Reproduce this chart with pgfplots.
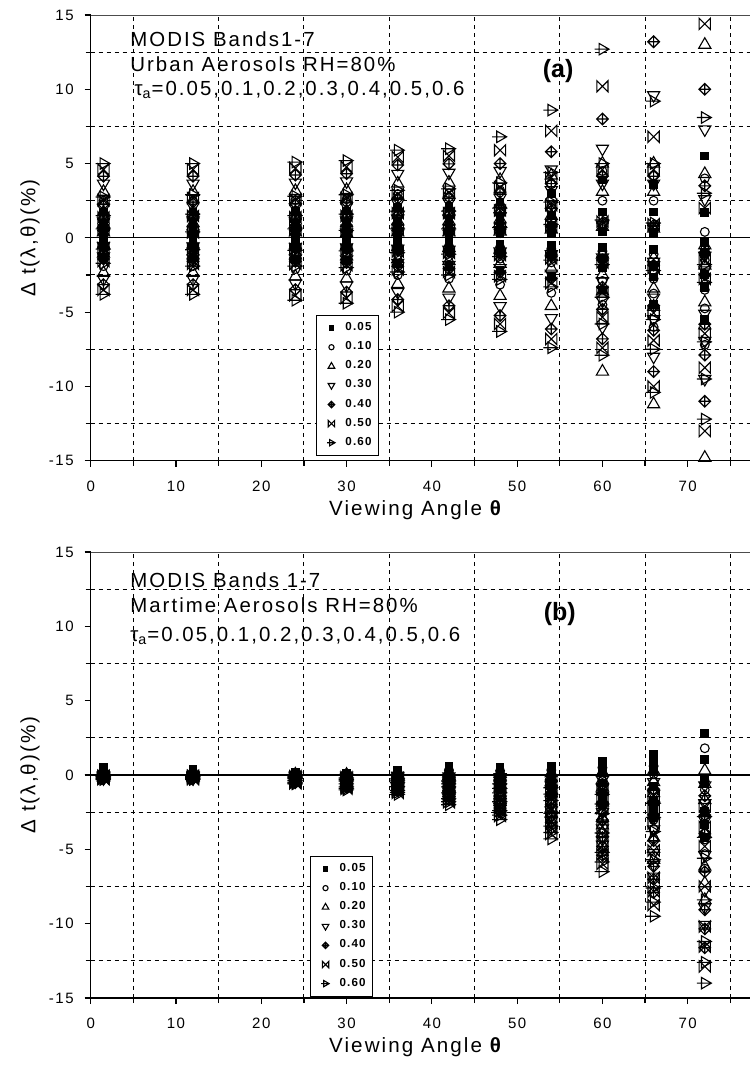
\documentclass[border=0pt]{standalone}
\usepackage{fontspec}
\setmainfont{Liberation Sans}
\newfontfamily\spaced[LetterSpace=10]{Liberation Sans}
\usepackage{pgfplots}
\usepackage{pgfplotstable}
\pgfplotsset{compat=1.18}

% marks of the seven optical depths
\pgfdeclareplotmark{dplus}{%
  \pgfpathmoveto{\pgfqpoint{0pt}{\pgfplotmarksize}}%
  \pgfpathlineto{\pgfqpoint{\pgfplotmarksize}{0pt}}%
  \pgfpathlineto{\pgfqpoint{0pt}{-\pgfplotmarksize}}%
  \pgfpathlineto{\pgfqpoint{-\pgfplotmarksize}{0pt}}%
  \pgfpathclose
  \pgfpathmoveto{\pgfqpoint{0pt}{\pgfplotmarksize}}%
  \pgfpathlineto{\pgfqpoint{0pt}{-\pgfplotmarksize}}%
  \pgfpathmoveto{\pgfqpoint{-\pgfplotmarksize}{0pt}}%
  \pgfpathlineto{\pgfqpoint{\pgfplotmarksize}{0pt}}%
  \pgfusepathqstroke}
\pgfdeclareplotmark{bowx}{%
  \pgfpathmoveto{\pgfqpoint{-\pgfplotmarksize}{\pgfplotmarksize}}%
  \pgfpathlineto{\pgfqpoint{\pgfplotmarksize}{-\pgfplotmarksize}}%
  \pgfpathlineto{\pgfqpoint{\pgfplotmarksize}{\pgfplotmarksize}}%
  \pgfpathlineto{\pgfqpoint{-\pgfplotmarksize}{-\pgfplotmarksize}}%
  \pgfpathclose
  \pgfusepathqstroke}
\pgfdeclareplotmark{rtri}{%
  \pgfpathmoveto{\pgfqpoint{\pgfplotmarksize}{0pt}}%
  \pgfpathlineto{\pgfqpoint{-0.5\pgfplotmarksize}{0.866\pgfplotmarksize}}%
  \pgfpathlineto{\pgfqpoint{-0.5\pgfplotmarksize}{-0.866\pgfplotmarksize}}%
  \pgfpathclose
  \pgfpathmoveto{\pgfqpoint{-1.2\pgfplotmarksize}{0pt}}%
  \pgfpathlineto{\pgfqpoint{\pgfplotmarksize}{0pt}}%
  \pgfusepathqstroke}

\pgfplotsset{
  s1/.style={only marks, black, mark=square*, mark size=1.9pt, mark options={fill=black, line width=0.5pt}, legend image post style={mark size=1.2pt}},
  s2/.style={only marks, black, mark=o, mark size=2.2pt, mark options={line width=0.55pt}, legend image post style={mark size=1.3pt}},
  s3/.style={only marks, black, mark=triangle, mark size=3.5pt, mark options={line width=0.55pt}, legend image post style={mark size=1.9pt}},
  s4/.style={only marks, black, mark=triangle, mark size=3.5pt, mark options={rotate=180, line width=0.55pt}, legend image post style={mark size=1.9pt}},
  s5/.style={only marks, black, mark=dplus, mark size=2.9pt, mark options={line width=0.6pt}, legend image post style={mark size=1.6pt}},
  s6/.style={only marks, black, mark=bowx, mark size=2.8pt, mark options={line width=0.55pt}, legend image post style={mark size=1.6pt}},
  s7/.style={only marks, black, mark=rtri, mark size=3.3pt, mark options={line width=0.55pt}, legend image post style={mark size=1.8pt}},
  panel/.style={
    width=329.65pt, scale only axis,
    xmin=0, xmax=77.3, ymin=-15, ymax=15,
    xtick={0,10,...,70}, ytick={-15,-10,...,15},
    minor xtick={5,15,...,75},
    minor ytick={-12.5,-7.5,-2.5,2.5,7.5,12.5},
    xminorgrids, yminorgrids,
    minor grid style={black, line width=0.5pt, dash pattern=on 2pt off 2pt},
    axis x line=bottom, axis y line=left,
    axis line style={-, line width=0.6pt},
    tick align=outside, major tick length=3pt, minor tick length=2.5pt,
    tick style={black, line width=0.6pt},
    extra y ticks={0}, extra y tick labels={},
    extra y tick style={grid=major, major grid style={solid, black, line width=0.6pt}},
    /pgf/number format/assume math mode=true,
    ticklabel style={font=\spaced\fontsize{7.5}{9}\selectfont},
    xticklabel style={yshift=-3.5pt},
    yticklabel style={xshift=-2pt},
    label style={font=\spaced\fontsize{10.3}{12}\selectfont},
    xlabel={Viewing Angle {\bfseries θ}},
    ylabel={Δ t(λ,θ)(\%)},
    xlabel style={at={(axis description cs:0.492,-0.11)}, anchor=center},
    ylabel style={at={(axis description cs:-0.092,0.5)}, anchor=center},
    legend style={draw=black, line width=0.6pt, anchor=north west,
      font=\spaced\bfseries\fontsize{5.8}{7}\selectfont, inner sep=1.5pt, row sep=0pt,
      cells={anchor=west}},
    legend image code/.code={\path[draw=none] (0pt,0pt) -- (11pt,0pt); \draw[#1] plot coordinates {(6pt,0pt)};},
  },
}

% urban aerosols: rows = angle, columns = tau 0.05 ... 0.60
\pgfplotstableread{
x t1 t2 t3 t4 t5 t6 t7
1.5 1.75 2.5 3.1 3.65 4.15 4.6 5.0
1.5 0.96 1.38 1.71 2.01 2.28 2.53 2.75
1.5 0.53 0.75 0.93 1.1 1.25 1.38 1.5
1.5 0.21 0.3 0.37 0.44 0.5 0.55 0.6
1.5 -0.27 -0.38 -0.47 -0.55 -0.63 -0.7 -0.76
1.5 -0.6 -0.86 -1.06 -1.25 -1.42 -1.57 -1.71
1.5 -1.33 -1.9 -2.36 -2.77 -3.15 -3.5 -3.8
12 1.75 2.5 3.1 3.65 4.15 4.6 5.0
12 1.02 1.45 1.8 2.12 2.41 2.67 2.9
12 0.56 0.8 0.99 1.17 1.33 1.47 1.6
12 0.14 0.2 0.25 0.29 0.33 0.37 0.4
12 -0.28 -0.4 -0.5 -0.58 -0.66 -0.74 -0.8
12 -0.67 -0.95 -1.18 -1.39 -1.58 -1.75 -1.9
12 -1.33 -1.9 -2.36 -2.77 -3.15 -3.5 -3.8
24 1.79 2.55 3.16 3.72 4.23 4.69 5.1
24 0.98 1.4 1.74 2.04 2.32 2.58 2.8
24 0.53 0.75 0.93 1.1 1.25 1.38 1.5
24 0.21 0.3 0.37 0.44 0.5 0.55 0.6
24 -0.29 -0.42 -0.52 -0.61 -0.7 -0.77 -0.84
24 -0.67 -0.95 -1.18 -1.39 -1.58 -1.75 -1.9
24 -1.47 -2.1 -2.6 -3.07 -3.49 -3.86 -4.2
30 1.82 2.6 3.22 3.8 4.32 4.78 5.2
30 1.02 1.45 1.8 2.12 2.41 2.67 2.9
30 0.56 0.8 0.99 1.17 1.33 1.47 1.6
30 0.18 0.25 0.31 0.37 0.42 0.46 0.5
30 -0.31 -0.44 -0.55 -0.64 -0.73 -0.81 -0.88
30 -0.7 -1.0 -1.24 -1.46 -1.66 -1.84 -2.0
30 -1.54 -2.2 -2.73 -3.21 -3.65 -4.05 -4.4
36 2.07 2.95 3.66 4.31 4.9 5.43 5.9
36 1.12 1.6 1.98 2.34 2.66 2.94 3.2
36 0.63 0.9 1.12 1.31 1.49 1.66 1.8
36 0.21 0.3 0.37 0.44 0.5 0.55 0.6
36 -0.35 -0.5 -0.62 -0.73 -0.83 -0.92 -1.0
36 -0.81 -1.15 -1.43 -1.68 -1.91 -2.12 -2.3
36 -1.75 -2.5 -3.1 -3.65 -4.15 -4.6 -5.0
42 2.1 3.0 3.72 4.38 4.98 5.52 6.0
42 1.16 1.65 2.05 2.41 2.74 3.04 3.3
42 0.63 0.9 1.12 1.31 1.49 1.66 1.8
42 0.21 0.3 0.37 0.44 0.5 0.55 0.6
42 -0.39 -0.55 -0.68 -0.8 -0.91 -1.01 -1.1
42 -0.88 -1.25 -1.55 -1.83 -2.08 -2.3 -2.5
42 -1.93 -2.75 -3.41 -4.02 -4.57 -5.06 -5.5
48 2.4 3.2 3.9 4.5 5.0 5.9 6.8
48 1.3 1.85 2.29 2.7 3.07 3.4 3.7
48 0.7 1.0 1.24 1.46 1.66 1.84 2.0
48 0.25 0.35 0.43 0.51 0.58 0.64 0.7
48 -0.44 -0.63 -0.78 -0.92 -1.05 -1.16 -1.26
48 -0.98 -1.4 -1.74 -2.04 -2.32 -2.58 -2.8
48 -2.21 -3.15 -3.91 -4.6 -5.23 -5.8 -6.3
54 3.0 3.6 4.2 4.6 5.8 7.2 8.6
54 1.54 2.2 2.73 3.21 3.65 4.05 4.4
54 0.84 1.2 1.49 1.75 1.99 2.21 2.4
54 0.32 0.45 0.56 0.66 0.75 0.83 0.9
54 -0.53 -0.75 -0.93 -1.1 -1.25 -1.38 -1.5
54 -1.16 -1.65 -2.05 -2.41 -2.74 -3.04 -3.3
54 -2.59 -3.7 -4.59 -5.4 -6.14 -6.81 -7.4
60 3.9 4.5 5.0 6.0 8.0 10.2 12.7
60 1.75 2.5 3.1 3.65 4.15 4.6 5.0
60 0.42 0.6 0.74 0.88 1.0 1.1 1.2
60 -0.63 -0.9 -1.12 -1.31 -1.49 -1.66 -1.8
60 -1.4 -2.0 -2.48 -2.92 -3.32 -3.68 -4.0
60 -2.03 -2.9 -3.6 -4.23 -4.81 -5.34 -5.8
60 -3.5 -4.5 -9.0 -6.0 -6.8 -7.4 -7.9
66 3.6 4.2 5.0 9.6 13.2 6.8 9.2
66 1.75 2.5 3.1 3.65 4.15 4.6 5.0
66 0.35 0.5 0.62 0.73 0.83 0.92 1.0
66 -0.77 -1.1 -1.36 -1.61 -1.83 -2.02 -2.2
66 -1.93 -2.75 -3.41 -4.02 -4.57 -5.06 -5.5
66 -2.63 -3.75 -4.65 -5.48 -6.23 -6.9 -7.5
66 -4.5 -6.0 -11.2 -8.0 -9.0 -10.0 -10.4
72 5.5 4.0 13.0 7.3 10.0 14.4 8.1
72 1.7 0.4 4.3 2.6 3.5 2.0 3.0
72 -0.3 -0.8 -0.5 -1.2 -1.0 -1.5 -1.8
72 -1.05 -1.5 -1.86 -2.19 -2.49 -2.76 -3.0
72 -2.45 -3.5 -4.34 -5.11 -5.81 -6.44 -7.0
72 -3.33 -4.75 -5.89 -6.94 -7.89 -8.74 -9.5
72 -5.5 -7.2 -14.8 -9.5 -11.0 -13.0 -12.2
}\urban

% maritime aerosols
\pgfplotstableread{
x t1 t2 t3 t4 t5 t6 t7
1.5 0.5 0.28 0.1 -0.02 -0.03 -0.05 -0.06
1.5 0.43 0.23 0.07 -0.05 -0.06 -0.08 -0.09
1.5 0.35 0.17 0.03 -0.07 -0.08 -0.1 -0.12
1.5 0.2 0.07 -0.04 -0.12 -0.14 -0.16 -0.18
1.5 0.06 -0.03 -0.11 -0.17 -0.19 -0.22 -0.24
1.5 -0.02 -0.09 -0.15 -0.2 -0.22 -0.25 -0.27
1.5 -0.09 -0.14 -0.18 -0.22 -0.25 -0.28 -0.3
12 0.4 0.22 0.08 -0.02 -0.03 -0.05 -0.06
12 0.34 0.18 0.05 -0.05 -0.06 -0.08 -0.09
12 0.28 0.13 0.02 -0.07 -0.08 -0.1 -0.12
12 0.16 0.04 -0.05 -0.12 -0.14 -0.16 -0.18
12 0.03 -0.05 -0.12 -0.17 -0.19 -0.22 -0.24
12 -0.03 -0.1 -0.15 -0.2 -0.22 -0.25 -0.27
12 -0.09 -0.14 -0.18 -0.22 -0.25 -0.28 -0.3
24 0.2 0.11 0.04 -0.03 -0.06 -0.09 -0.12
24 0.16 0.07 -0.01 -0.08 -0.12 -0.15 -0.18
24 0.11 0.02 -0.06 -0.13 -0.17 -0.21 -0.24
24 0.01 -0.08 -0.16 -0.23 -0.28 -0.32 -0.36
24 -0.09 -0.17 -0.26 -0.33 -0.39 -0.44 -0.48
24 -0.14 -0.22 -0.31 -0.38 -0.45 -0.5 -0.54
24 -0.18 -0.27 -0.36 -0.43 -0.5 -0.55 -0.6
30 0.1 0.06 0.02 -0.05 -0.1 -0.15 -0.2
30 0.05 -0.01 -0.06 -0.14 -0.19 -0.25 -0.3
30 0.0 -0.07 -0.14 -0.22 -0.28 -0.34 -0.4
30 -0.1 -0.2 -0.29 -0.39 -0.47 -0.54 -0.6
30 -0.2 -0.32 -0.45 -0.55 -0.65 -0.73 -0.8
30 -0.25 -0.39 -0.53 -0.64 -0.74 -0.83 -0.9
30 -0.3 -0.45 -0.6 -0.72 -0.83 -0.92 -1.0
36 0.3 0.17 0.06 -0.07 -0.13 -0.2 -0.26
36 0.22 0.08 -0.05 -0.18 -0.25 -0.33 -0.39
36 0.13 -0.02 -0.15 -0.28 -0.37 -0.45 -0.52
36 -0.05 -0.21 -0.36 -0.5 -0.61 -0.7 -0.78
36 -0.22 -0.4 -0.57 -0.72 -0.84 -0.95 -1.04
36 -0.31 -0.5 -0.68 -0.83 -0.96 -1.08 -1.17
36 -0.39 -0.59 -0.78 -0.94 -1.08 -1.2 -1.3
42 0.6 0.33 0.12 -0.1 -0.2 -0.3 -0.4
42 0.45 0.18 -0.05 -0.27 -0.39 -0.5 -0.6
42 0.3 0.02 -0.21 -0.44 -0.57 -0.69 -0.8
42 0.0 -0.29 -0.54 -0.77 -0.93 -1.07 -1.2
42 -0.3 -0.59 -0.87 -1.11 -1.3 -1.46 -1.6
42 -0.45 -0.75 -1.04 -1.28 -1.48 -1.65 -1.8
42 -0.6 -0.9 -1.2 -1.44 -1.66 -1.84 -2.0
48 0.5 0.28 0.1 -0.15 -0.3 -0.45 -0.6
48 0.33 0.08 -0.14 -0.4 -0.58 -0.74 -0.9
48 0.15 -0.13 -0.38 -0.65 -0.85 -1.03 -1.2
48 -0.2 -0.54 -0.85 -1.16 -1.4 -1.61 -1.8
48 -0.55 -0.94 -1.33 -1.66 -1.94 -2.18 -2.4
48 -0.73 -1.15 -1.57 -1.91 -2.22 -2.47 -2.7
48 -0.9 -1.35 -1.8 -2.16 -2.49 -2.76 -3.0
54 0.6 0.33 0.12 -0.22 -0.43 -0.65 -0.86
54 0.37 0.05 -0.22 -0.58 -0.83 -1.06 -1.29
54 0.13 -0.24 -0.56 -0.94 -1.22 -1.47 -1.72
54 -0.35 -0.8 -1.23 -1.66 -2.0 -2.3 -2.58
54 -0.82 -1.37 -1.91 -2.38 -2.79 -3.13 -3.44
54 -1.06 -1.66 -2.25 -2.74 -3.18 -3.55 -3.87
54 -1.29 -1.94 -2.58 -3.1 -3.57 -3.96 -4.3
60 0.9 0.5 0.18 -0.33 -0.65 -0.98 -1.3
60 0.55 0.07 -0.33 -0.87 -1.25 -1.61 -1.95
60 0.19 -0.36 -0.84 -1.41 -1.84 -2.23 -2.6
60 -0.53 -1.22 -1.86 -2.5 -3.02 -3.48 -3.9
60 -1.24 -2.07 -2.88 -3.59 -4.21 -4.73 -5.2
60 -1.6 -2.5 -3.39 -4.14 -4.81 -5.36 -5.85
60 -1.95 -2.93 -3.9 -4.68 -5.4 -5.98 -6.5
66 1.4 0.6 0.28 -0.48 -0.95 -1.43 -1.9
66 0.87 0.06 -0.47 -1.28 -1.82 -2.34 -2.85
66 0.34 -0.49 -1.22 -2.07 -2.68 -3.25 -3.8
66 -0.73 -1.75 -2.71 -3.66 -4.42 -5.08 -5.7
66 -1.79 -3.01 -4.21 -5.25 -6.15 -6.91 -7.6
66 -2.32 -3.65 -4.96 -6.05 -7.02 -7.83 -8.55
66 -2.85 -4.28 -5.7 -6.84 -7.89 -8.74 -9.5
72 2.8 1.8 0.3 -0.7 -1.4 -2.1 -2.8
72 -0.2 -1.0 -0.6 -1.9 -2.7 -3.5 -4.2
72 1.05 -0.42 -1.68 -3.05 -3.96 -4.8 -5.6
72 -0.5 -2.38 -3.92 -5.39 -6.51 -7.49 -8.4
72 -2.45 -4.34 -6.16 -7.74 -9.07 -10.19 -11.2
72 -3.33 -5.32 -7.28 -8.91 -10.35 -11.54 -12.6
72 -4.2 -6.3 -8.4 -10.08 -11.62 -12.88 -14.0
}\maritime

\begin{document}
\begin{tikzpicture}
\path[use as bounding box] (-45.35pt,-305.65pt) rectangle (329.65pt,230.35pt);

% (a) urban
\begin{axis}[panel, height=222.85pt, at={(0pt,0pt)}, anchor=south west,
  legend style={at={(axis description cs:0.3415,0.327)}}]
  \addplot[s1] table[x=x, y=t1] {\urban}; \addlegendentry{0.05}
  \addplot[s2] table[x=x, y=t2] {\urban}; \addlegendentry{0.10}
  \addplot[s3] table[x=x, y=t3] {\urban}; \addlegendentry{0.20}
  \addplot[s4] table[x=x, y=t4] {\urban}; \addlegendentry{0.30}
  \addplot[s5] table[x=x, y=t5] {\urban}; \addlegendentry{0.40}
  \addplot[s6] table[x=x, y=t6] {\urban}; \addlegendentry{0.50}
  \addplot[s7] table[x=x, y=t7] {\urban}; \addlegendentry{0.60}
  \draw[black!70, line width=0.9pt] (rel axis cs:0,1) -- (rel axis cs:1,1);
  \begin{scope}[every node/.style={anchor=base west, inner sep=0pt, font=\spaced\fontsize{10.2}{12}\selectfont}]
    \node at (axis cs:4.6,12.85) {MODIS Bands1-7};
    \node at (axis cs:4.6,11.23) {Urban Aerosols RH=80\%};
    \node at (axis cs:5.1,9.55) {τ\textsubscript{a}=0.05,0.1,0.2,0.3,0.4,0.5,0.6};
  \end{scope}
  \node[font=\bfseries\fontsize{12.5}{14}\selectfont] at (axis cs:54.8,11.2) {(a)};
\end{axis}

% (b) maritime
\begin{axis}[panel, height=223pt, at={(0pt,-268.65pt)}, anchor=south west,
  legend style={at={(axis description cs:0.3325,0.3187)}}]
  \addplot[s1] table[x=x, y=t1] {\maritime}; \addlegendentry{0.05}
  \addplot[s2] table[x=x, y=t2] {\maritime}; \addlegendentry{0.10}
  \addplot[s3] table[x=x, y=t3] {\maritime}; \addlegendentry{0.20}
  \addplot[s4] table[x=x, y=t4] {\maritime}; \addlegendentry{0.30}
  \addplot[s5] table[x=x, y=t5] {\maritime}; \addlegendentry{0.40}
  \addplot[s6] table[x=x, y=t6] {\maritime}; \addlegendentry{0.50}
  \addplot[s7] table[x=x, y=t7] {\maritime}; \addlegendentry{0.60}
  \draw[black!70, line width=0.9pt] (rel axis cs:0,1) -- (rel axis cs:1,1);
  \begin{scope}[every node/.style={anchor=base west, inner sep=0pt, font=\spaced\fontsize{10.2}{12}\selectfont}]
    \node at (axis cs:4.6,12.58) {MODIS Bands 1-7};
    \node at (axis cs:4.6,10.95) {Martime Aerosols RH=80\%};
    \node at (axis cs:4.6,9.0) {τ\textsubscript{a}=0.05,0.1,0.2,0.3,0.4,0.5,0.6};
  \end{scope}
  \node[font=\bfseries\fontsize{12.5}{14}\selectfont] at (axis cs:55,10.8) {(b)};
\end{axis}
\end{tikzpicture}
\end{document}
